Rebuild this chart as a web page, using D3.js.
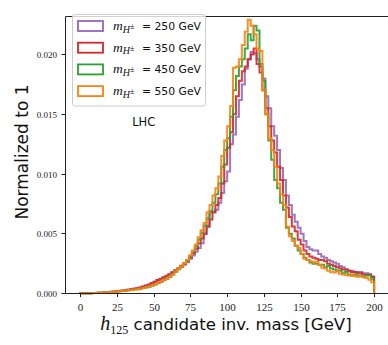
<!DOCTYPE html>
<html><head><meta charset="utf-8">
<script src="https://cdn.jsdelivr.net/npm/d3@7"></script>
<style>body{margin:0;background:#fff}svg{display:block}</style>
</head><body>
<script>
// bin edges: 0..200 step 2 (100 bins)
const binStart = 0, binWidth = 2, nBins = 100;
const seriesNames = ["250", "350", "450", "550"];
const seriesColors = ["#9467bd", "#d62728", "#2ca02c", "#ff7f0e"];
const xTicks = [0, 25, 50, 75, 100, 125, 150, 175, 200];
const yTicks = [0.000, 0.005, 0.010, 0.015, 0.020];

const v250 = [
0.00002,0.00002,0.00003,0.00003,0.00004,0.00005,0.00006,0.00007,0.00009,0.00011,
0.00014,0.00016,0.00019,0.00022,0.00025,0.00028,0.00032,0.00036,0.00040,0.00044,
0.00050,0.00058,0.00066,0.00076,0.00088,0.00098,0.00110,0.00120,0.00132,0.00145,
0.00160,0.00175,0.00190,0.00205,0.00222,0.00240,0.00262,0.00290,0.00318,0.00350,
0.00380,0.00420,0.00500,0.00560,0.00680,0.00680,0.00700,0.00760,0.00840,0.00940,
0.01020,0.01250,0.01330,0.01480,0.01620,0.01750,0.01880,0.01960,0.02020,0.02010,
0.01960,0.01900,0.01800,0.01650,0.01550,0.01400,0.01320,0.01200,0.01050,0.00950,
0.00820,0.00740,0.00660,0.00600,0.00550,0.00500,0.00440,0.00390,0.00370,0.00360,
0.00360,0.00330,0.00310,0.00300,0.00280,0.00270,0.00260,0.00250,0.00230,0.00220,
0.00200,0.00190,0.00190,0.00180,0.00180,0.00180,0.00170,0.00170,0.00160,0.00140];

const v350 = [
0.00002,0.00002,0.00003,0.00003,0.00004,0.00005,0.00006,0.00007,0.00009,0.00011,
0.00013,0.00015,0.00018,0.00021,0.00024,0.00027,0.00031,0.00035,0.00039,0.00043,
0.00049,0.00056,0.00064,0.00074,0.00086,0.00098,0.00112,0.00124,0.00135,0.00148,
0.00162,0.00178,0.00195,0.00212,0.00232,0.00252,0.00275,0.00302,0.00335,0.00375,
0.00420,0.00460,0.00500,0.00560,0.00620,0.00680,0.00740,0.00800,0.00920,0.01080,
0.01220,0.01350,0.01500,0.01650,0.01780,0.01860,0.01900,0.01960,0.02000,0.02050,
0.01920,0.01850,0.01700,0.01550,0.01400,0.01280,0.01180,0.01060,0.00950,0.00820,
0.00720,0.00640,0.00560,0.00520,0.00450,0.00410,0.00360,0.00330,0.00310,0.00300,
0.00290,0.00280,0.00280,0.00270,0.00250,0.00240,0.00230,0.00220,0.00210,0.00200,
0.00200,0.00190,0.00180,0.00180,0.00170,0.00170,0.00160,0.00160,0.00160,0.00140];

const v450 = [
0.00002,0.00002,0.00003,0.00003,0.00004,0.00005,0.00006,0.00007,0.00008,0.00010,
0.00012,0.00014,0.00016,0.00018,0.00021,0.00024,0.00027,0.00030,0.00033,0.00036,
0.00040,0.00045,0.00051,0.00057,0.00065,0.00075,0.00086,0.00096,0.00110,0.00124,
0.00138,0.00158,0.00182,0.00202,0.00222,0.00248,0.00275,0.00310,0.00350,0.00395,
0.00450,0.00510,0.00570,0.00630,0.00690,0.00760,0.00830,0.00920,0.01060,0.01200,
0.01300,0.01480,0.01700,0.01820,0.01900,0.01960,0.02050,0.02170,0.02120,0.02240,
0.02200,0.01920,0.01780,0.01500,0.01280,0.01120,0.00950,0.00880,0.00760,0.00700,
0.00550,0.00500,0.00460,0.00400,0.00360,0.00330,0.00300,0.00280,0.00260,0.00250,
0.00250,0.00240,0.00240,0.00220,0.00230,0.00210,0.00200,0.00190,0.00190,0.00170,
0.00180,0.00160,0.00150,0.00160,0.00150,0.00150,0.00140,0.00150,0.00150,0.00120];

const v550 = [
0.00002,0.00002,0.00003,0.00003,0.00004,0.00005,0.00006,0.00007,0.00008,0.00010,
0.00012,0.00014,0.00016,0.00019,0.00022,0.00024,0.00028,0.00030,0.00033,0.00036,
0.00040,0.00046,0.00052,0.00058,0.00066,0.00076,0.00088,0.00098,0.00112,0.00126,
0.00140,0.00160,0.00185,0.00205,0.00225,0.00252,0.00280,0.00318,0.00360,0.00410,
0.00470,0.00530,0.00590,0.00680,0.00740,0.00820,0.00880,0.00980,0.01150,0.01280,
0.01400,0.01570,0.01890,0.01900,0.01960,0.02080,0.02190,0.02290,0.02240,0.02170,
0.02050,0.02030,0.01700,0.01500,0.01300,0.01200,0.01060,0.00920,0.00830,0.00740,
0.00560,0.00480,0.00440,0.00400,0.00380,0.00330,0.00290,0.00280,0.00270,0.00260,
0.00265,0.00240,0.00215,0.00210,0.00190,0.00180,0.00175,0.00185,0.00165,0.00160,
0.00155,0.00150,0.00160,0.00145,0.00140,0.00145,0.00135,0.00130,0.00115,0.00095];

const seriesValues = [v250, v350, v450, v550];

const W = 388, H = 345;
const svg = d3.select("body").append("svg").attr("width", W).attr("height", H)
  .style("font-family", "'DejaVu Sans', sans-serif");

const x = d3.scaleLinear().domain([-10, 210]).range([65.5, 388.8]);
const y = d3.scaleLinear().domain([0, 0.02318]).range([293.5, 16.5]);

// histograms
const line = d3.line().x(d => x(d[0])).y(d => y(d[1]));
seriesValues.forEach((vals, si) => {
  const pts = [[binStart, 0]];
  vals.forEach((v, i) => {
    pts.push([binStart + i * binWidth, v]);
    pts.push([binStart + (i + 1) * binWidth, v]);
  });
  pts.push([binStart + nBins * binWidth, 0]);
  svg.append("path").attr("d", line(pts))
    .attr("fill", "none").attr("stroke", seriesColors[si])
    .attr("stroke-width", 2).attr("stroke-opacity", 0.9)
    .attr("stroke-linejoin", "miter");
});

// spines
const ax = svg.append("g").attr("stroke", "#222").attr("stroke-width", 1).attr("fill", "none");
ax.append("line").attr("x1", x(-10)).attr("x2", x(-10)).attr("y1", y.range()[1]).attr("y2", y.range()[0]);
ax.append("line").attr("x1", x(-10)).attr("x2", W + 2).attr("y1", y.range()[0]).attr("y2", y.range()[0]);
ax.append("line").attr("x1", x(-10)).attr("x2", W + 2).attr("y1", y.range()[1]).attr("y2", y.range()[1]);

// x ticks
const xg = svg.append("g");
xTicks.forEach(t => {
  const px = Math.round(x(t)) + 0.5;
  xg.append("line").attr("x1", px).attr("x2", px).attr("y1", 293.5).attr("y2", 297)
    .attr("stroke", "#222").attr("stroke-width", 1);
  xg.append("text").attr("x", px).attr("y", 311).attr("text-anchor", "middle")
    .style("font-family", "'Liberation Serif', serif").style("font-size", "11px")
    .attr("fill", "#222").text(t);
});
// y ticks
const yg = svg.append("g");
yTicks.forEach(t => {
  const py = Math.round(y(t) - 0.5) + 0.5;
  yg.append("line").attr("x1", 61.5).attr("x2", 65.5).attr("y1", py).attr("y2", py)
    .attr("stroke", "#222").attr("stroke-width", 1);
  yg.append("text").attr("x", 57).attr("y", py + 3).attr("text-anchor", "end")
    .style("font-family", "'Liberation Serif', serif").style("font-size", "9px")
    .attr("fill", "#222").text(t.toFixed(3));
});

// axis labels
svg.append("text").attr("transform", "translate(28,152) rotate(-90)")
  .attr("text-anchor", "middle").style("font-size", "17px").attr("fill", "#111")
  .text("Normalized to 1");

const xl = svg.append("text").attr("x", 226).attr("y", 330).attr("text-anchor", "middle")
  .style("font-size", "16.6px").attr("fill", "#111");
xl.append("tspan").style("font-family", "'Liberation Serif', serif").style("font-style", "italic")
  .style("font-size", "20px").text("h");
xl.append("tspan").style("font-family", "'Liberation Serif', serif").style("font-size", "12px")
  .attr("dy", 4).text("125");
xl.append("tspan").attr("dy", -4).text(" candidate inv. mass [GeV]");

// legend
const lg = svg.append("g");
lg.append("rect").attr("x", 72.5).attr("y", 14.5).attr("width", 133).attr("height", 91.5)
  .attr("rx", 2.5).attr("fill", "#fff").attr("fill-opacity", 0.8)
  .attr("stroke", "#ccc").attr("stroke-width", 1);
seriesNames.forEach((n, i) => {
  const cy = 26 + i * 21.7;
  lg.append("rect").attr("x", 78).attr("y", cy - 5).attr("width", 25).attr("height", 10)
    .attr("fill", "#fff").attr("stroke", seriesColors[i]).attr("stroke-width", 1.8);
  const t = lg.append("text").attr("x", 113).attr("y", cy + 4).attr("fill", "#111");
  t.append("tspan").style("font-family", "'Liberation Serif', serif").style("font-style", "italic")
    .style("font-size", "13.5px").text("m");
  t.append("tspan").style("font-family", "'Liberation Serif', serif").style("font-style", "italic")
    .style("font-size", "10px").attr("dy", 2.5).text("H");
  t.append("tspan").style("font-family", "'Liberation Serif', serif")
    .style("font-size", "8px").attr("dy", -3.5).text("±");
  lg.append("text").attr("x", 142).attr("y", cy + 4).attr("fill", "#111")
    .style("font-size", "10.8px").text("= " + n + " GeV");
});

svg.append("text").attr("x", 143.7).attr("y", 126).attr("text-anchor", "middle")
  .style("font-size", "11.5px").attr("fill", "#111").text("LHC");
</script>
</body></html>
